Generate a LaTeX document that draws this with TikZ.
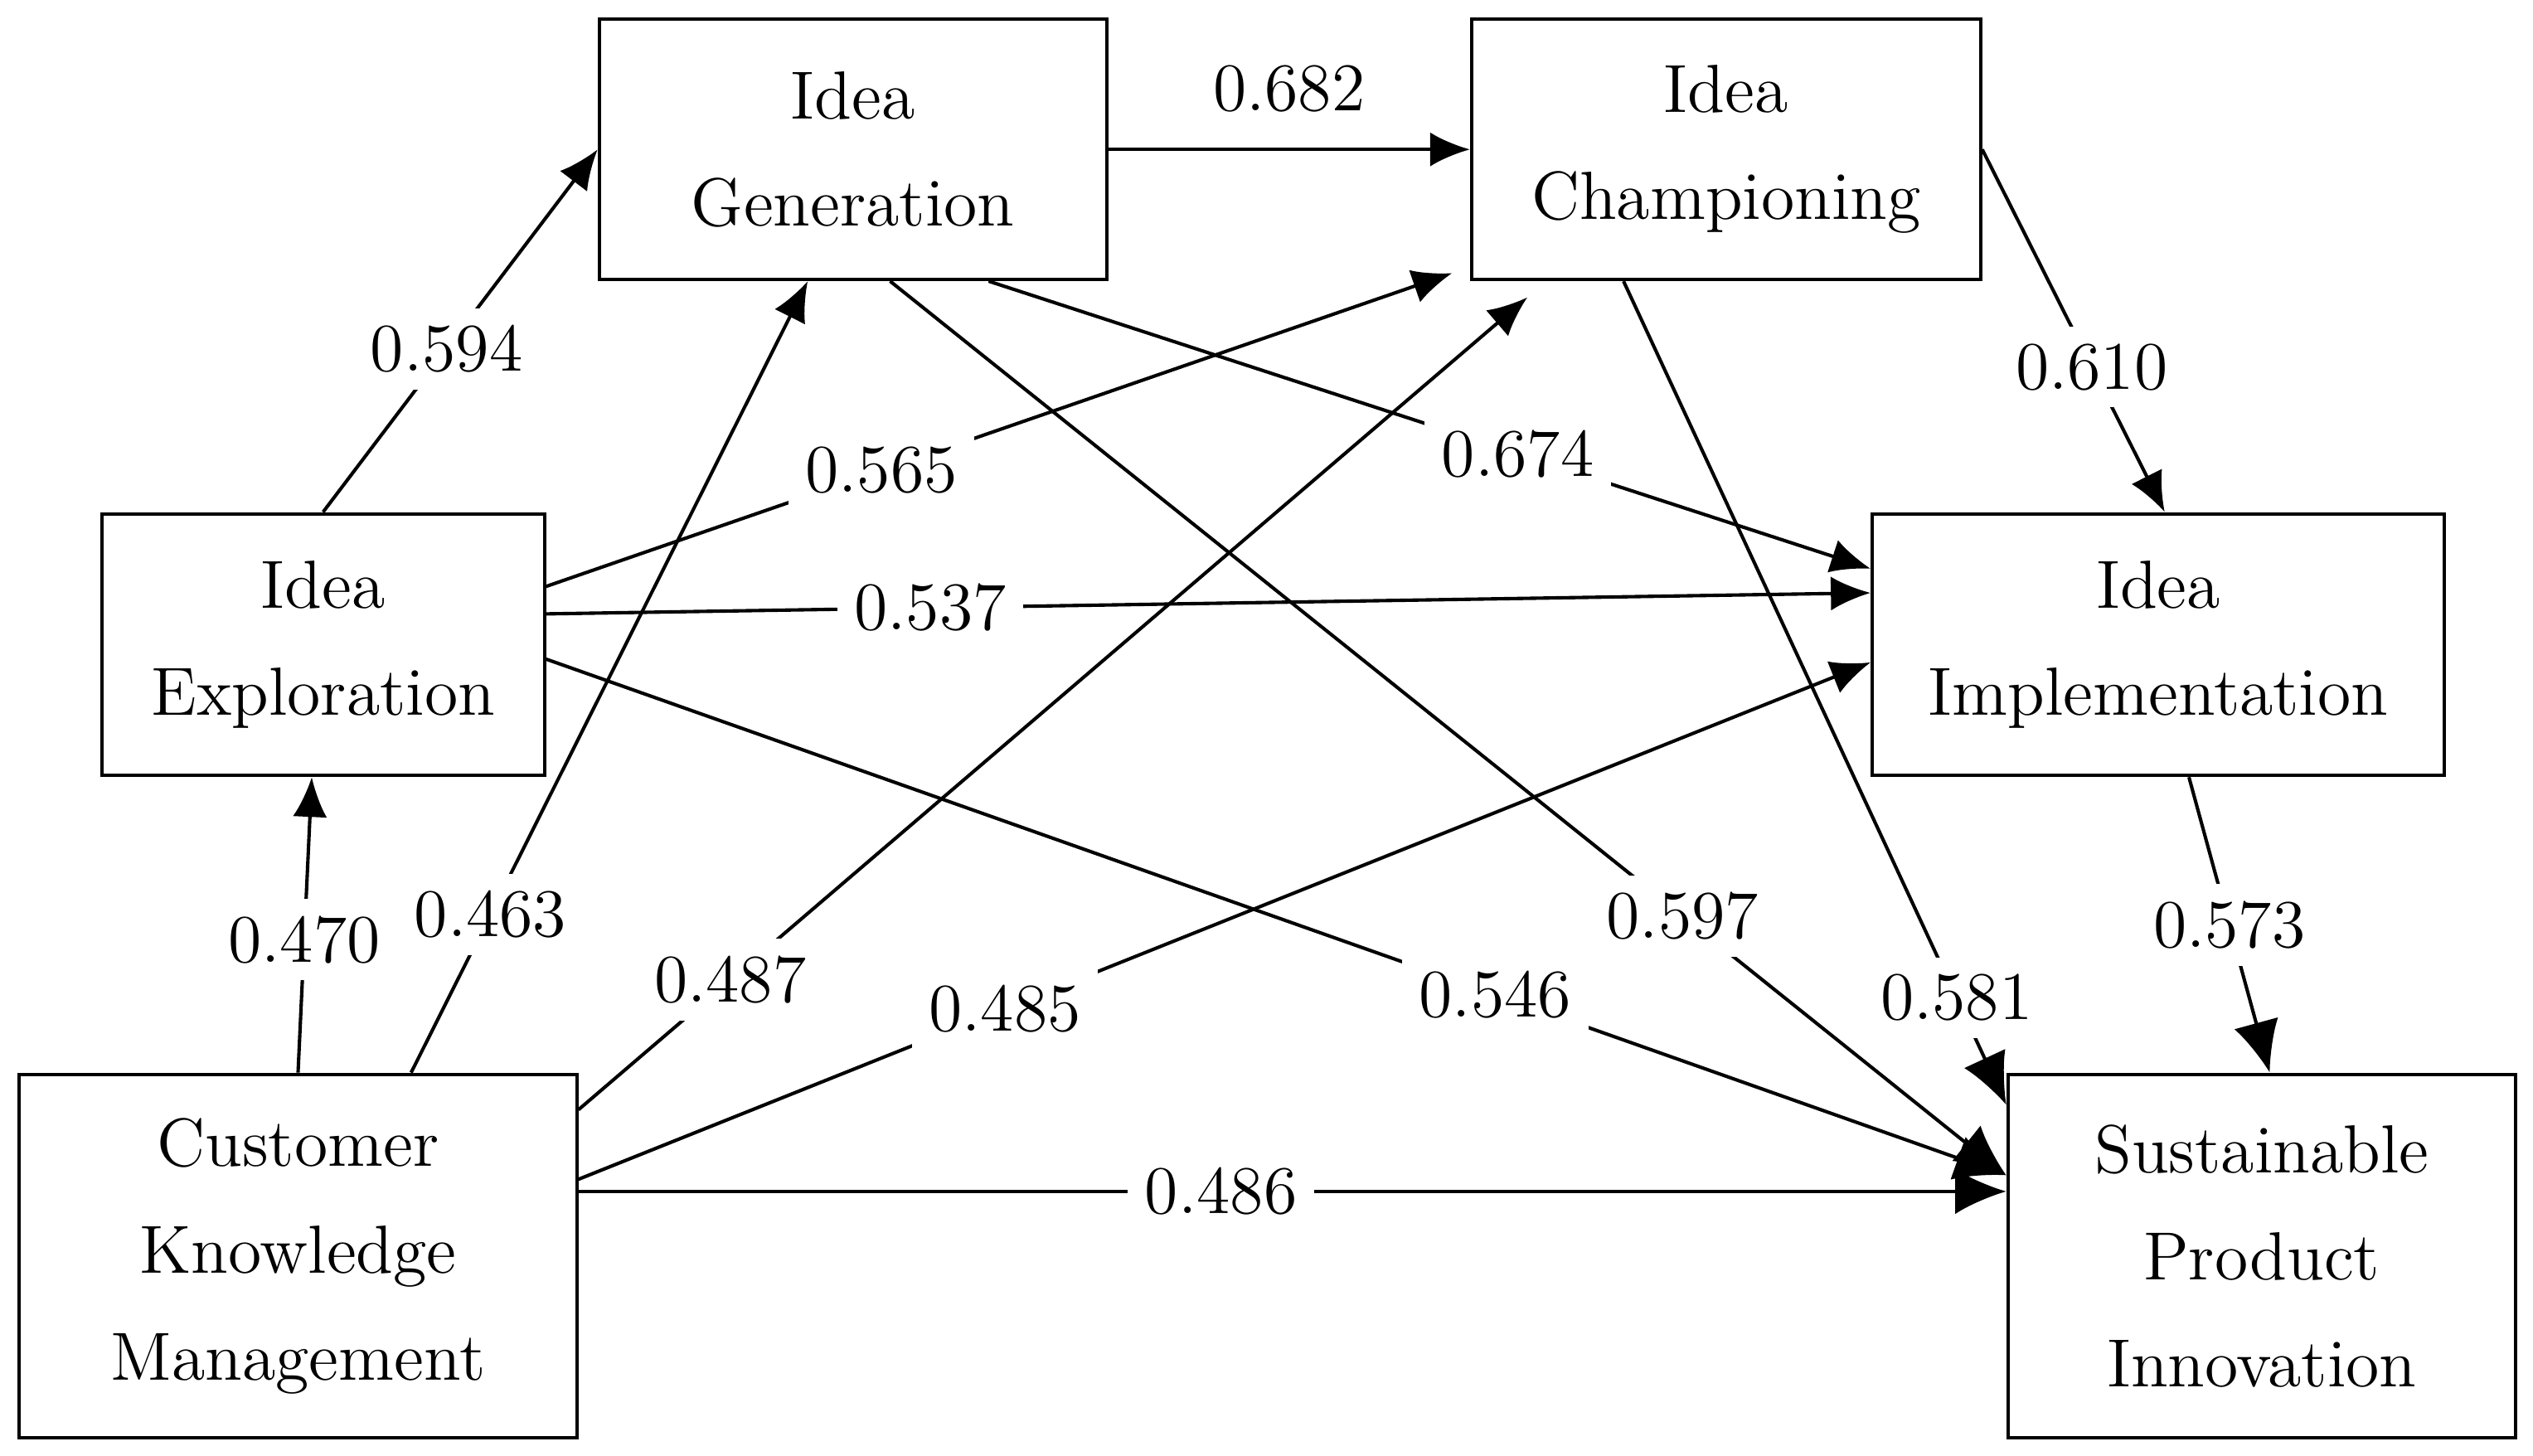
\documentclass[tikz,border=0pt]{standalone}
\usepackage{tikz}
\usetikzlibrary{arrows.meta}
\tikzset{
	box/.style={draw, line width=0.6pt, align=center, inner sep=0pt, font=\fontsize{12pt}{18.8pt}\selectfont},
	val/.style={fill=white, inner sep=3pt, font=\fontsize{12pt}{14pt}\selectfont},
	link/.style={line width=0.6pt, -{Latex[length=7pt,width=6pt]}},
	bigLink/.style={line width=0.6pt, -{Latex[length=9pt,width=8pt]}}
}
\newcommand{\drawValLink}[5]{
	\draw[#1] (#2) -- node[val, pos=#4] {#5} (#3);
}

\begin{document}
\begin{tikzpicture}

		\useasboundingbox (0,0) rectangle (15.68,-9.01);

		\node[box, minimum width=3.14cm, minimum height=1.61cm] (IG) at (5.28,-0.925) {Idea\\Generation};
		\node[box, minimum width=3.15cm, minimum height=1.61cm] (IC) at (10.685,-0.925) {Idea\\Championing};
		\node[box, minimum width=2.74cm, minimum height=1.62cm] (IE) at (2.00,-3.99) {Idea\\Exploration};
		\node[box, minimum width=3.54cm, minimum height=1.62cm] (II) at (13.36,-3.99) {Idea\\Implementation};
		\node[box, minimum width=3.45cm, minimum height=2.25cm] (CKM) at (1.845,-7.775) {Customer\\Knowledge\\Management};
		\node[box, minimum width=3.14cm, minimum height=2.25cm] (SPI) at (14.00,-7.775) {Sustainable\\Product\\Innovation};

		\drawValLink{link}{IE.north}{IG.west}{0.45}{0.594}
		\draw[link] (IG.east) -- node[above=3pt, font=\fontsize{12pt}{14pt}\selectfont] {0.682} (IC.west);
		\drawValLink{link}{IC.east}{[xshift=0.04cm]II.north}{0.6}{0.610}
		\drawValLink{link}{[yshift=0.36cm]IE.east}{[xshift=-0.11cm,yshift=0.05cm]IC.south west}{0.37}{0.565}
		\drawValLink{link}{[xshift=0.84cm]IG.south}{[yshift=0.47cm]II.west}{0.6}{0.674}
		\drawValLink{link}{[yshift=0.19cm]IE.east}{[yshift=0.32cm]II.west}{0.29}{0.537}
		\drawValLink{bigLink}{[yshift=-0.09cm]IE.east}{[yshift=0.5cm]SPI.west}{0.65}{0.546}
		\drawValLink{bigLink}{[xshift=0.23cm]IG.south}{[yshift=0.5cm]SPI.west}{0.71}{0.597}
		\drawValLink{bigLink}{[xshift=-0.635cm]IC.south}{[yshift=-0.2cm]SPI.north west}{0.87}{0.581}
		\drawValLink{bigLink}{[xshift=0.19cm]II.south}{[xshift=0.05cm]SPI.north}{0.5}{0.573}
		\drawValLink{link}{CKM.north}{[xshift=-0.07cm]IE.south}{0.45}{0.470}
		\drawValLink{link}{[xshift=0.7cm]CKM.north}{[xshift=-0.28cm]IG.south}{0.2}{0.463}
		\drawValLink{link}{[yshift=-0.23cm]CKM.north east}{[xshift=-1.23cm,yshift=-0.1cm]IC.south}{0.16}{0.487}
		\drawValLink{link}{[yshift=0.475cm]CKM.east}{[yshift=-0.11cm]II.west}{0.33}{0.485}
		\drawValLink{bigLink}{[yshift=0.4cm]CKM.east}{[yshift=0.4cm]SPI.west}{0.45}{0.486}

	\end{tikzpicture}
\end{document}
